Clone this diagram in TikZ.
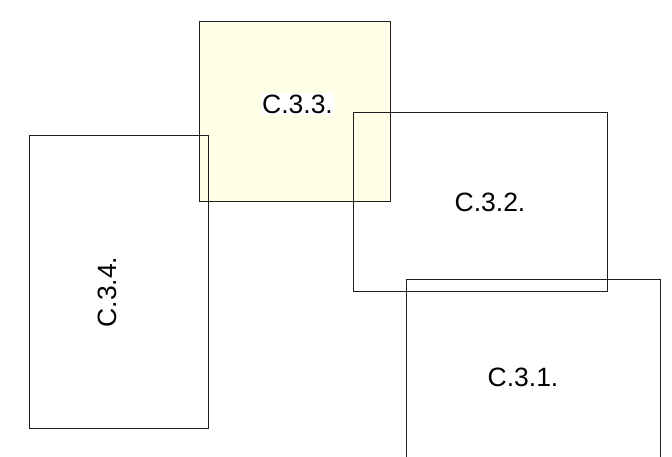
\documentclass[tikz,border=0pt]{standalone}
\usepackage{fontspec}
\setmainfont{Liberation Sans}
\definecolor{paleyellow}{RGB}{255,255,232}
\definecolor{edge}{RGB}{30,30,30}
\begin{document}
\begin{tikzpicture}[x=1pt,y=-1pt,
  box/.style={draw=edge, line width=0.9pt, rectangle, inner sep=0pt, outer sep=0pt},
  lbl/.style={font=\fontsize{26.5}{30}\selectfont, inner sep=1.5pt, text=black}]
\useasboundingbox (0,0) rectangle (672,456);
\node[box, fill=paleyellow, minimum width=190.5pt, minimum height=179.5pt] (b33) at (294.75,111.25) {};
\node[lbl, fill=white] (t33) at (297.5,104) {C.3.3.};
\node[box, minimum width=179.7pt, minimum height=292.3pt] (b34) at (118.85,281.85) {};
\node[box, minimum width=254pt, minimum height=179.3pt] (b32) at (480.3,201.65) {};
\node[box, minimum width=254.3pt, minimum height=190.3pt] (b31) at (533.15,374.85) {};
\node[lbl] (t32) at (490,202) {C.3.2.};
\node[lbl] (t31) at (523,377) {C.3.1.};
\node[lbl, rotate=90] (t34) at (107,292) {C.3.4.};
\end{tikzpicture}
\end{document}
